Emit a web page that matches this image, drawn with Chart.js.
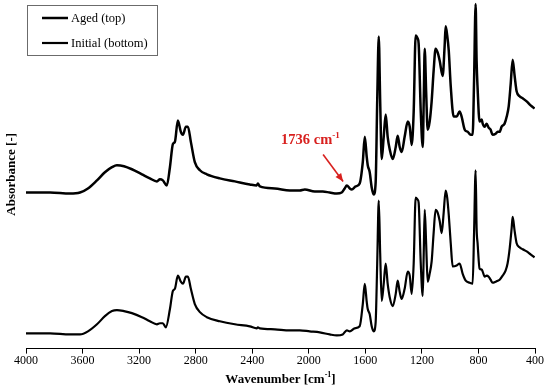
<!DOCTYPE html>
<html>
<head>
<meta charset="utf-8">
<script src="https://cdn.jsdelivr.net/npm/chart.js@4"></script>
<style>
  html,body{margin:0;padding:0;background:#fff;}
  #wrap{width:550px;height:391px;position:relative;}
</style>
</head>
<body>
<div id="wrap"><canvas id="ftir"></canvas></div>
<script>
// FTIR spectra (arbitrary absorbance units, aged curve sits above)
const agedWn = [4000,3830,3689,3618,3562,3498,3442,3392,3357,3307,3251,3180,3124,3074,3053,3032,3004,2982,2961,2947,2926,2905,2890,2869,2855,2834,2806,2770,2721,2629,2523,2417,2368,2360,2346,2240,2134,2064,2028,1958,1901,1852,1802,1767,1746,1731,1710,1696,1668,1640,1618,1604,1590,1583,1569,1555,1541,1527,1516,1505,1495,1484,1470,1456,1442,1428,1406,1385,1371,1357,1343,1322,1300,1286,1272,1258,1244,1230,1223,1208,1194,1187,1180,1170,1159,1145,1131,1117,1103,1088,1074,1053,1039,1032,1021,1010,996,975,954,933,919,897,876,855,841,831,820,813,806,792,777,770,756,742,728,714,700,678,664,650,636,615,600,586,572,558,544,530,509,487,459,431,403];
const agedAbs = [1.54,1.54,1.53,1.54,1.58,1.66,1.74,1.79,1.81,1.80,1.77,1.72,1.68,1.65,1.67,1.66,1.61,1.79,2.02,2.04,2.25,2.14,2.11,2.19,2.19,2.04,1.84,1.76,1.72,1.68,1.65,1.62,1.61,1.63,1.60,1.58,1.56,1.56,1.57,1.55,1.55,1.54,1.53,1.54,1.58,1.61,1.58,1.57,1.60,1.63,1.84,2.09,1.89,1.81,1.74,1.59,1.52,1.64,2.44,3.08,2.44,1.87,2.09,2.31,2.09,1.97,1.87,1.99,2.10,1.99,1.94,2.09,2.24,2.19,2.01,2.34,3.09,3.06,3.01,2.34,1.99,2.44,2.96,2.54,2.16,2.24,2.44,2.74,2.96,2.92,2.84,2.69,2.99,3.18,3.09,2.94,2.59,2.29,2.29,2.34,2.29,2.16,2.14,2.11,2.11,2.64,3.40,2.84,2.57,2.24,2.26,2.22,2.19,2.22,2.18,2.16,2.11,2.12,2.14,2.14,2.19,2.22,2.29,2.39,2.61,2.85,2.69,2.54,2.49,2.47,2.44,2.40,2.37];

const initWn = [4000,3830,3689,3618,3562,3498,3442,3392,3357,3307,3251,3180,3124,3074,3053,3032,3011,2982,2961,2947,2926,2905,2890,2869,2855,2834,2806,2770,2721,2629,2523,2417,2368,2360,2346,2240,2134,2064,1993,1922,1852,1802,1760,1731,1710,1675,1640,1618,1604,1590,1583,1569,1555,1541,1527,1516,1505,1495,1484,1470,1456,1442,1428,1406,1385,1371,1357,1343,1322,1300,1286,1272,1258,1244,1230,1223,1208,1194,1187,1180,1170,1159,1145,1131,1117,1103,1088,1074,1060,1046,1032,1021,1010,996,982,954,933,912,890,862,841,831,820,813,806,792,777,770,756,742,728,714,700,678,664,650,629,608,594,579,565,558,544,530,509,487,459,431,403];
const initAbs = [0.15,0.15,0.14,0.14,0.17,0.24,0.32,0.37,0.38,0.37,0.35,0.31,0.27,0.24,0.25,0.25,0.21,0.39,0.57,0.59,0.72,0.66,0.64,0.71,0.71,0.59,0.44,0.36,0.31,0.27,0.24,0.22,0.20,0.21,0.20,0.19,0.18,0.18,0.17,0.16,0.14,0.13,0.14,0.18,0.17,0.20,0.22,0.44,0.64,0.46,0.39,0.34,0.22,0.17,0.26,0.84,1.46,0.94,0.47,0.64,0.84,0.64,0.51,0.42,0.54,0.67,0.56,0.49,0.59,0.76,0.72,0.54,0.84,1.49,1.47,1.44,0.84,0.52,0.94,1.37,1.04,0.66,0.74,0.86,1.14,1.37,1.34,1.26,1.14,1.34,1.56,1.49,1.32,1.04,0.81,0.82,0.84,0.74,0.67,0.65,0.64,1.14,1.76,1.19,1.04,0.79,0.78,0.76,0.71,0.72,0.71,0.68,0.65,0.66,0.67,0.68,0.72,0.77,0.84,0.99,1.19,1.30,1.16,1.04,1.00,0.98,0.96,0.93,0.90];

const xTicks = [4000,3600,3200,2800,2400,2000,1600,1200,800,400];
const seriesNames = ['Aged (top)','Initial (bottom)'];
const markedPeak = 1736;      // cm-1, carbonyl band on aged curve
const markedPeakAbs = 1.61;

const SERIF = '"Liberation Serif","Times New Roman",serif';

function toPoints(xs, ys){ return xs.map((v,i)=>({x:v,y:ys[i]})); }

// legend box, axis titles and the red callout
const extras = {
  id:'extras',
  afterDraw(chart){
    const {ctx, chartArea:ca, scales:{x,y}} = chart;
    ctx.save();
    // legend
    ctx.strokeStyle = '#6b6b6b'; ctx.lineWidth = 1;
    ctx.strokeRect(27.5, 5.5, 130, 50);
    ctx.font = '12.5px ' + SERIF; ctx.fillStyle = '#000'; ctx.textBaseline = 'middle';
    chart.data.datasets.forEach((ds,i)=>{
      const ly = 18 + i*25;
      ctx.strokeStyle = '#000'; ctx.lineWidth = ds.borderWidth;
      ctx.beginPath(); ctx.moveTo(42, ly); ctx.lineTo(68, ly); ctx.stroke();
      ctx.fillText(ds.label, 71, ly + 1);
    });
    // x title with superscript
    ctx.textBaseline = 'alphabetic';
    const main = 'Wavenumber [cm', sup = '-1', end = ']';
    ctx.font = 'bold 13px ' + SERIF; const w1 = ctx.measureText(main).width, w3 = ctx.measureText(end).width;
    ctx.font = 'bold 8px ' + SERIF; const w2 = ctx.measureText(sup).width;
    let tx = (ca.left + ca.right)/2 - (w1+w2+w3)/2;
    const ty = 383;
    ctx.font = 'bold 13px ' + SERIF; ctx.fillText(main, tx, ty);
    ctx.font = 'bold 8px ' + SERIF; ctx.fillText(sup, tx + w1, ty - 6);
    ctx.font = 'bold 13px ' + SERIF; ctx.fillText(end, tx + w1 + w2, ty);
    // y title
    ctx.save();
    ctx.translate(12, (ca.top + ca.bottom)/2);
    ctx.rotate(-Math.PI/2);
    ctx.textAlign = 'center'; ctx.textBaseline = 'middle';
    ctx.font = 'bold 13px ' + SERIF;
    ctx.fillText('Absorbance [-]', 0, 0);
    ctx.restore();
    // callout
    const red = '#d8201e';
    const tipX = x.getPixelForValue(markedPeak) - 3;
    const tipY = y.getPixelForValue(markedPeakAbs) - 4;
    const sx = tipX - 20, sy = tipY - 27;
    ctx.strokeStyle = red; ctx.fillStyle = red; ctx.lineWidth = 1.6;
    ctx.beginPath(); ctx.moveTo(sx, sy); ctx.lineTo(tipX, tipY); ctx.stroke();
    const ang = Math.atan2(tipY - sy, tipX - sx);
    ctx.beginPath();
    ctx.moveTo(tipX, tipY);
    ctx.lineTo(tipX - 8*Math.cos(ang) + 3.5*Math.sin(ang), tipY - 8*Math.sin(ang) - 3.5*Math.cos(ang));
    ctx.lineTo(tipX - 8*Math.cos(ang) - 3.5*Math.sin(ang), tipY - 8*Math.sin(ang) + 3.5*Math.cos(ang));
    ctx.closePath(); ctx.fill();
    ctx.font = 'bold 14.5px ' + SERIF;
    const lx = tipX - 62, lb = tipY - 37;
    const lt = markedPeak + ' cm';
    ctx.fillText(lt, lx, lb);
    const lw = ctx.measureText(lt).width;
    ctx.font = 'bold 9px ' + SERIF;
    ctx.fillText('-1', lx + lw, lb - 6);
    ctx.restore();
  }
};

new Chart(document.getElementById('ftir'), {
  type:'line',
  data:{
    datasets:[
      {label:seriesNames[0], data:toPoints(agedWn, agedAbs), borderColor:'#000', borderWidth:2.5, pointRadius:0, cubicInterpolationMode:'monotone', fill:false},
      {label:seriesNames[1], data:toPoints(initWn, initAbs), borderColor:'#000', borderWidth:2.2, pointRadius:0, cubicInterpolationMode:'monotone', fill:false}
    ]
  },
  options:{
    responsive:true, maintainAspectRatio:false, animation:false,
    layout:{padding:{left:26, right:15, top:0, bottom:23}},
    plugins:{legend:{display:false}, tooltip:{enabled:false}},
    scales:{
      x:{
        type:'linear', reverse:true, min:400, max:4000,
        afterBuildTicks: s => { s.ticks = xTicks.map(v=>({value:v})); },
        grid:{drawOnChartArea:false, drawTicks:true, tickLength:5, color:'#000', lineWidth:1},
        border:{display:true, color:'#000', width:1},
        ticks:{color:'#000', padding:0, maxRotation:0, font:{family:SERIF, size:12}, callback:v=>String(v)}
      },
      y:{display:false, min:0, max:3.44}
    }
  },
  plugins:[extras]
});
</script>
</body>
</html>
